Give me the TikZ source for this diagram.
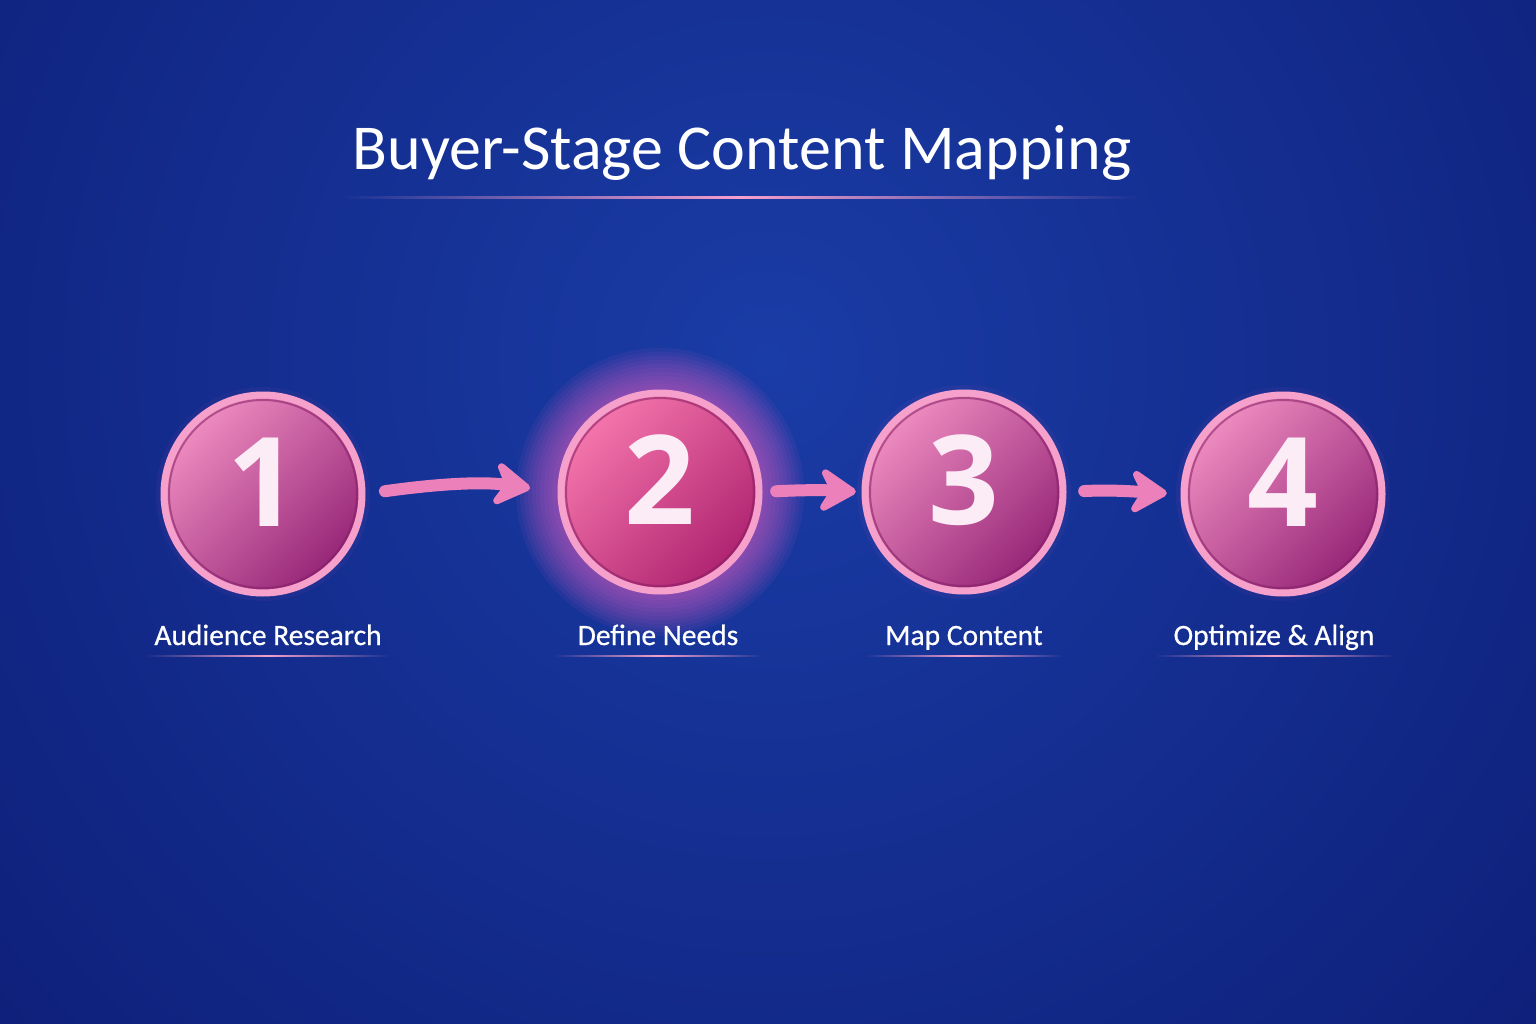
\documentclass[tikz,border=0pt]{standalone}
\usepackage{fontspec}
\setmainfont{Carlito}
\newfontfamily\labfont{Carlito}[FakeBold=0.6]
\newfontfamily\numfont{Open Sans}
\usetikzlibrary{arrows.meta,fadings,calc}

\definecolor{bgC}{RGB}{26,60,166}
\definecolor{bgE}{RGB}{11,24,110}
\definecolor{pinkL}{RGB}{238,140,192}
\definecolor{pinkD}{RGB}{150,38,120}
\definecolor{pinkLL}{RGB}{245,118,172}
\definecolor{pinkDD}{RGB}{175,35,112}
\definecolor{rim}{RGB}{246,160,204}
\definecolor{ringdark}{RGB}{130,30,100}
\definecolor{arrowpink}{RGB}{236,128,186}
\definecolor{numwhite}{RGB}{252,236,246}
\definecolor{glowpink}{RGB}{245,100,200}

\tikzfading[name=fadesides, left color=transparent!100, right color=transparent!100, middle color=transparent!0]

\tikzset{
  titlestyle/.style={text=white, font=\fontsize{64}{72}\selectfont, inner sep=0},
  lab/.style={text=white, font=\labfont\fontsize{29.5}{34}\selectfont, inner sep=0, anchor=base},
  stepnode/.style={circle, minimum size=204pt, inner sep=0},
  numstyle/.style={text=numwhite, font=\numfont\bfseries\fontsize{124}{130}\selectfont, inner sep=0},
  flowarrow/.style={draw=arrowpink, line width=12pt, line cap=round,
     -{Stealth[length=44pt, width=54pt, inset=15pt, round]}},
  underl/.style={fill=rim, path fading=fadesides}
}

\newcommand\drawstepcircle[6]{%
  \node[stepnode] (#1) at (#2,#3) {};
  \shade[top color=#5, bottom color=#6, shading angle=45] (#1) circle[radius=99];
  \draw[ringdark, line width=2pt, opacity=0.55] (#1) circle[radius=94];
  \draw[rim, line width=7pt] (#1) circle[radius=99];
  \node[numstyle] at ($(#1)+(0,-12)$) {#4};
}

\begin{document}
\begin{tikzpicture}[x=1pt,y=-1pt]
\useasboundingbox (0,0) rectangle (1536,1024);
\fill[bgE] (0,0) rectangle (1536,1024);
\begin{scope}
  \clip (0,0) rectangle (1536,1024);
  \shade[inner color=bgC, outer color=bgE] (768,360) circle[radius=1300];
\end{scope}

% title
\node[titlestyle] (title) at (742,153) {Buyer-Stage Content Mapping};
\fill[underl] (340,196) rectangle (1140,199);

% glow of circle 2
\foreach \r in {104,108,...,144} {
  \fill[glowpink, opacity=0.065] (660,492) circle[radius=\r];
}
\foreach \r in {103,107} {
  \fill[glowpink, opacity=0.05] (263,494) circle[radius=\r];
  \fill[glowpink, opacity=0.05] (964,492) circle[radius=\r];
  \fill[glowpink, opacity=0.05] (1283,494) circle[radius=\r];
}

\drawstepcircle{c1}{263}{494}{1}{pinkL}{pinkD}
\drawstepcircle{c2}{660}{492}{2}{pinkLL}{pinkDD}
\drawstepcircle{c3}{964}{492}{3}{pinkL}{pinkD}
\drawstepcircle{c4}{1283}{494}{4}{pinkL}{pinkD}

% arrows
\draw[flowarrow, shorten <=20pt, shorten >=28pt] (c1.east) to[out=8, in=172] (c2.west);
\draw[flowarrow, shorten <=14pt, shorten >=6pt] (c2.east) to[out=3, in=177] (c3.west);
\draw[flowarrow, shorten <=18pt, shorten >=14pt] (c3.east) to[out=3, in=177] (c4.west);

% labels
\node[lab] (l1) at (268,645) {Audience Research};
\node[lab] (l2) at (658,645) {Define Needs};
\node[lab] (l3) at (964,645) {Map Content};
\node[lab] (l4) at (1274,645) {Optimize \& Align};
\fill[underl] ($(l1.base)+(-123,9.5)$) rectangle ($(l1.base)+(122,12)$);
\fill[underl] ($(l2.base)+(-105,9.5)$) rectangle ($(l2.base)+(105,12)$);
\fill[underl] ($(l3.base)+(-99,9.5)$) rectangle ($(l3.base)+(99,12)$);
\fill[underl] ($(l4.base)+(-120,9.5)$) rectangle ($(l4.base)+(121,12)$);
\end{tikzpicture}
\end{document}
